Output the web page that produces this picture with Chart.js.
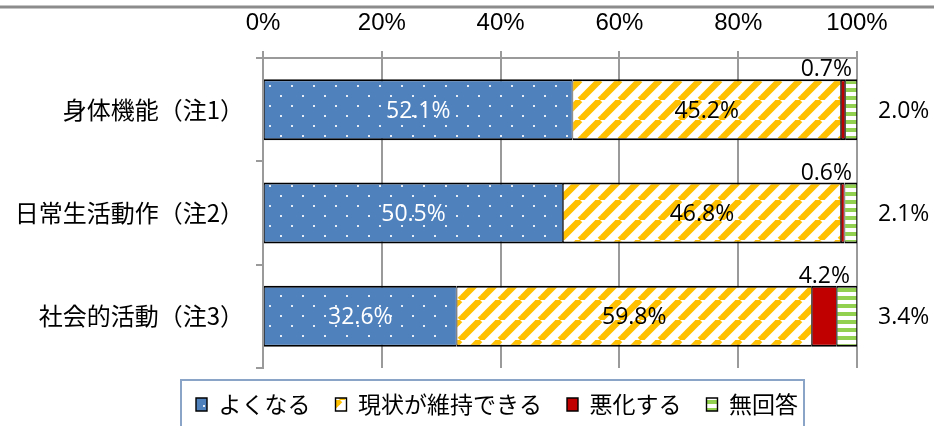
<!DOCTYPE html>
<html>
<head>
<meta charset="utf-8">
<script src="https://cdn.jsdelivr.net/npm/chart.js@4"></script>
<style>
  html, body { margin: 0; padding: 0; background: #fff; }
</style>
</head>
<body>
<canvas id="myChart" width="934" height="426"></canvas>
<script>
const categories = ["身体機能（注1）", "日常生活動作（注2）", "社会的活動（注3）"];
const seriesNames = ["よくなる", "現状が維持できる", "悪化する", "無回答"];
const improve = [52.1, 50.5, 32.6];
const maintain = [45.2, 46.8, 59.8];
const worsen = [0.7, 0.6, 4.2];
const noAnswer = [2.0, 2.1, 3.4];
const xTicks = [0, 20, 40, 60, 80, 100];

const canvas = document.getElementById("myChart");
const ctx = canvas.getContext("2d");

const jpFont = "'Noto Sans CJK JP', sans-serif";
const numFont = "'Open Sans', sans-serif";
const gridGray = "#9a9a9a";

// small tiles for the hatched fills
const makePattern = (w, h, draw) => {
  const tile = document.createElement("canvas");
  tile.width = w;
  tile.height = h;
  draw(tile.getContext("2d"), w, h);
  return ctx.createPattern(tile, "repeat");
};

const dotted = makePattern(22, 20, (g, w, h) => {
  g.fillStyle = "#4F81BD";
  g.fillRect(0, 0, w, h);
  g.fillStyle = "#e6edf7";
  g.fillRect(5, 5, 2, 2);
  g.fillRect(16, 15, 2, 2);
});

const striped = makePattern(20, 20, (g, w, h) => {
  g.fillStyle = "#fff";
  g.fillRect(0, 0, w, h);
  g.strokeStyle = "#FFC000";
  g.lineWidth = 6.5;
  [-w, 0, w].forEach((o) => {
    g.beginPath();
    g.moveTo(o, h);
    g.lineTo(o + w, 0);
    g.stroke();
  });
});

const banded = makePattern(8, 8, (g, w, h) => {
  g.fillStyle = "#fff";
  g.fillRect(0, 0, w, h);
  g.fillStyle = "#92D050";
  g.fillRect(0, 0, w, 4);
});

const barBorder = { top: 2, bottom: 2, left: 0.8, right: 0.8 };

// page frame line, legend frame, legend offset
const framePlugin = {
  id: "frame",
  afterLayout(chart) {
    // legend sits a bit right of the page centre
    chart.legend.left += 60;
  },
  beforeDraw(chart) {
    const c = chart.ctx;
    c.save();
    c.fillStyle = "#fff";
    c.fillRect(0, 0, chart.width, chart.height);
    c.strokeStyle = "#8c8c8c";
    c.lineWidth = 3;
    c.beginPath();
    c.moveTo(0, 7);
    c.lineTo(chart.width, 7);
    c.stroke();
    c.restore();
  },
  afterDraw(chart) {
    const lg = chart.legend;
    const boxes = lg.legendHitBoxes;
    if (!boxes || !boxes.length) return;
    const first = boxes[0];
    const last = boxes[boxes.length - 1];
    const c = chart.ctx;
    c.save();
    c.strokeStyle = "#8aa4c8";
    c.lineWidth = 2;
    const left = first.left - 15;
    const right = last.left + last.width + 6;
    c.strokeRect(left, lg.top + 12, right - left, lg.bottom - lg.top);
    c.restore();
  },
};

// percentage labels on and around the bars
const labelPlugin = {
  id: "valueLabels",
  afterDatasetsDraw(chart) {
    const c = chart.ctx;
    const area = chart.chartArea;
    c.save();
    c.font = "23px " + numFont;
    chart.data.datasets.forEach((ds, i) => {
      chart.getDatasetMeta(i).data.forEach((bar, j) => {
        const text = ds.data[j].toFixed(1) + "%";
        const left = Math.min(bar.x, bar.base);
        const right = Math.max(bar.x, bar.base);
        const top = bar.y - bar.height / 2;
        c.textBaseline = "alphabetic";
        if (i < 2) {
          c.fillStyle = i === 0 ? "#fff" : "#000";
          c.textAlign = "center";
          c.fillText(text, (left + right) / 2, bar.y + 8);
        } else if (i === 2) {
          const w = c.measureText(text).width;
          const x = Math.min((left + right) / 2 + w / 2, area.right - 5);
          c.fillStyle = "#000";
          c.textAlign = "right";
          c.fillText(text, x, top - 3);
        } else {
          c.fillStyle = "#000";
          c.textAlign = "left";
          c.fillText(text, area.right + 21, bar.y + 8);
        }
      });
    });
    c.restore();
  },
};

const colors = [dotted, striped, "#C00000", banded];
const seriesData = [improve, maintain, worsen, noAnswer];

const myChart = new Chart(ctx, {
  type: "bar",
  data: {
    labels: categories,
    datasets: seriesNames.map((name, i) => ({
      label: name,
      data: seriesData[i],
      backgroundColor: colors[i],
      borderColor: "#000",
      borderWidth: barBorder,
      borderSkipped: false,
      categoryPercentage: 1,
      barPercentage: 0.59,
    })),
  },
  options: {
    indexAxis: "y",
    responsive: false,
    animation: false,
    devicePixelRatio: 1,
    layout: {
      padding: 0,
    },
    plugins: {
      tooltip: { enabled: false },
      legend: {
        position: "bottom",
        labels: {
          boxWidth: 11,
          boxHeight: 13,
          padding: 25,
          color: "#000",
          font: { family: jpFont, size: 23 },
        },
      },
    },
    scales: {
      x: {
        position: "top",
        stacked: true,
        min: 0,
        max: 100,
        afterBuildTicks: (scale) => {
          scale.ticks = xTicks.map((v) => ({ value: v }));
        },
        afterFit: (scale) => {
          scale.height = 58;
        },
        ticks: {
          callback: (v) => v + "%",
          color: "#000",
          padding: 13,
          font: { family: "'Liberation Sans Narrow', 'Liberation Sans', sans-serif", size: 24 },
        },
        grid: { color: gridGray, lineWidth: 2, tickLength: 7 },
        border: { color: gridGray, width: 2 },
      },
      y: {
        stacked: true,
        position: "left",
        afterFit: (scale) => {
          scale.width = 263;
        },
        ticks: {
          autoSkip: false,
          color: "#000",
          padding: 12,
          font: { family: jpFont, size: 24 },
        },
        grid: {
          offset: true,
          drawOnChartArea: false,
          tickLength: 7,
          color: gridGray,
          lineWidth: 2,
        },
        border: { color: gridGray, width: 2 },
      },
      yRight: {
        type: "category",
        position: "right",
        grid: { display: false },
        border: { display: false },
        ticks: { display: false },
        afterFit: (scale) => {
          scale.width = 77;
        },
      },
    },
  },
  plugins: [framePlugin, labelPlugin],
});
</script>
</body>
</html>
